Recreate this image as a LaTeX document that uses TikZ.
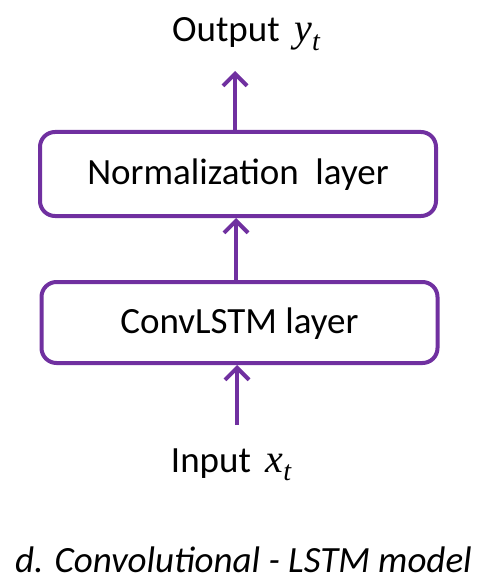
\documentclass[tikz,border=0pt]{standalone}
\usepackage{fontspec}
\setmainfont{Carlito}
\newfontfamily\varfont{Liberation Serif}
\newcommand\vsub[2]{\,{\fontsize{40}{44}\selectfont\varfont\itshape #1}\raisebox{-0.22em}{\fontsize{28}{30}\selectfont\varfont\itshape #2}}
\usetikzlibrary{arrows.meta}
\definecolor{lstmpurple}{HTML}{7030A0}
\begin{document}
\begin{tikzpicture}[x=1pt,y=-1pt,
  layerbox/.style={draw=lstmpurple, line width=4pt, rounded corners=15pt, minimum width=396pt, inner sep=0pt, text height=21pt, text depth=0pt, font=\fontsize{37}{42}\selectfont},
  flow/.style={draw=lstmpurple, line width=4pt, -{Straight Barb[length=12pt,width=24pt,line width=4pt]}},
  label/.style={font=\fontsize{37}{42}\selectfont, inner sep=0pt, anchor=base}]
\useasboundingbox (0,0) rectangle (481,580);
\node[label] (out) at (246,42) {Output \vsub{y}{t}};
\node[layerbox, minimum height=84pt] (norm) at (238,174) {Normalization\ \ layer};
\node[layerbox, minimum height=81pt] (conv) at (239.5,322.5) {ConvLSTM layer};
\node[label] (in) at (231,472) {Input \vsub{x}{t}};
\node[font=\fontsize{37}{42}\selectfont\itshape, inner sep=0pt, anchor=base] (cap) at (243.5,572) {d. Convolutional - LSTM model};
\coordinate (outarrow) at (235,71);
\coordinate (inarrow) at (237,425);
\draw[flow] (norm.north -| outarrow) -- (outarrow);
\draw[flow] (conv.north -| 236,0) -- (norm.south -| 236,0);
\draw[flow] (inarrow) -- (conv.south -| inarrow);
\end{tikzpicture}
\end{document}
